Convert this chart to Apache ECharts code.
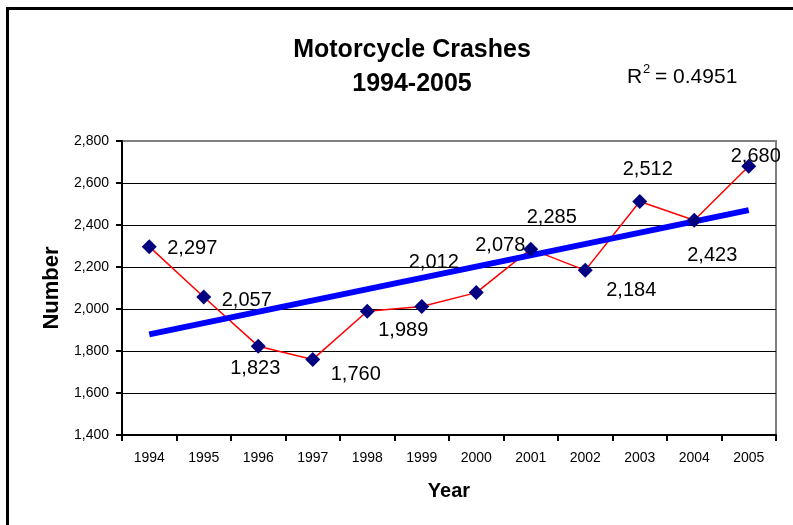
<!DOCTYPE html>
<html>
<head>
<meta charset="utf-8">
<script src="https://cdn.jsdelivr.net/npm/echarts@6/dist/echarts.min.js"></script>
<style>
  html, body { margin: 0; padding: 0; background: #fff; }
  #main { width: 793px; height: 525px; }
</style>
</head>
<body>
<div id="main"></div>
<script>
// data
var years = ['1994', '1995', '1996', '1997', '1998', '1999', '2000', '2001', '2002', '2003', '2004', '2005'];
var crashes = [2297, 2057, 1823, 1760, 1989, 2012, 2078, 2285, 2184, 2512, 2423, 2680];
// linear trend, ends
var trendYears = ['1994', '2005'];
var trendValues = [1879, 2471];
var rSquared = '0.4951';

// where each value label sits relative to its marker
var labelOffsets = [[43, 2], [43, 3], [-3, 22], [43, 15], [36, 19], [12, -44],
                    [24, -47], [21, -32], [46, 20], [8, -32], [18, 35], [7, -10]];

var font = 'Arial, "Liberation Sans", sans-serif';
var fmt = function (v) { return echarts.format.addCommas(v); };

var myChart = echarts.init(document.getElementById('main'));

var pointData = crashes.map(function (v, i) {
    return { value: v, label: { offset: labelOffsets[i] } };
});

// gridlines black, the top one gray like the plot border
var gridColors = ['#000', '#000', '#000', '#000', '#000', '#000', '#000', '#808080'];

option = {
    animation: false,
    backgroundColor: '#fff',
    title: {
        text: 'Motorcycle Crashes\n1994-2005',
        left: 407,
        top: 28,
        textAlign: 'center',
        textStyle: {
            fontFamily: font,
            fontSize: 25,
            fontWeight: 'bold',
            color: '#000',
            lineHeight: 34
        }
    },
    graphic: [
        {
            type: 'rect',
            shape: { x: 7.5, y: 8.5, width: 900, height: 700 },
            style: { fill: 'none', stroke: '#000', lineWidth: 3 },
            silent: true
        },
        // R² = ... with a raised 2
        {
            type: 'text',
            left: 627, top: 67,
            style: { text: 'R', font: '21px ' + font, fill: '#000' }
        },
        {
            type: 'text',
            left: 643, top: 63,
            style: { text: '2', font: '13px ' + font, fill: '#000' }
        },
        {
            type: 'text',
            left: 655, top: 67,
            style: { text: '= ' + rSquared, font: '21px ' + font, fill: '#000' }
        }
    ],
    grid: {
        left: 122,
        right: 17,
        top: 141,
        bottom: 90,
        show: true,
        borderColor: '#808080',
        borderWidth: 2
    },
    xAxis: {
        type: 'category',
        data: years,
        boundaryGap: true,
        name: 'Year',
        nameLocation: 'middle',
        nameGap: 46,
        nameTextStyle: { fontFamily: font, fontSize: 20, fontWeight: 'bold', color: '#000' },
        axisLine: { lineStyle: { color: '#000', width: 2 } },
        axisTick: { show: true, length: 6, lineStyle: { color: '#000', width: 2 } },
        axisLabel: { fontFamily: font, fontSize: 14, color: '#000', margin: 16 },
        splitLine: { show: false }
    },
    yAxis: {
        type: 'value',
        min: 1400,
        max: 2800,
        interval: 200,
        name: 'Number',
        nameLocation: 'middle',
        nameGap: 58,
        nameTextStyle: { fontFamily: font, fontSize: 22, fontWeight: 'bold', color: '#000' },
        axisLine: { show: true, lineStyle: { color: '#000', width: 2 } },
        axisTick: { show: true, length: 6, lineStyle: { color: '#000', width: 2 } },
        axisLabel: { fontFamily: font, fontSize: 14, color: '#000', margin: 13, formatter: fmt },
        splitLine: { show: true, lineStyle: { color: gridColors, width: 1 } }
    },
    series: [
        {
            name: 'Crashes',
            type: 'line',
            data: crashes,
            symbol: 'none',
            lineStyle: { color: '#ff0000', width: 1.5 },
            z: 2
        },
        {
            name: 'Trend',
            type: 'line',
            data: trendYears.map(function (y, i) { return [y, trendValues[i]]; }),
            symbol: 'none',
            lineStyle: { color: '#0000ff', width: 6 },
            z: 3
        },
        {
            name: 'Points',
            type: 'scatter',
            data: pointData,
            symbol: 'diamond',
            symbolSize: 15,
            itemStyle: { color: '#000080', opacity: 1 },
            label: {
                show: true,
                position: 'inside',
                fontFamily: font,
                fontSize: 20,
                color: '#000',
                formatter: function (p) { return fmt(p.value); }
            },
            z: 4
        }
    ]
};
myChart.setOption(option);
</script>
</body>
</html>
